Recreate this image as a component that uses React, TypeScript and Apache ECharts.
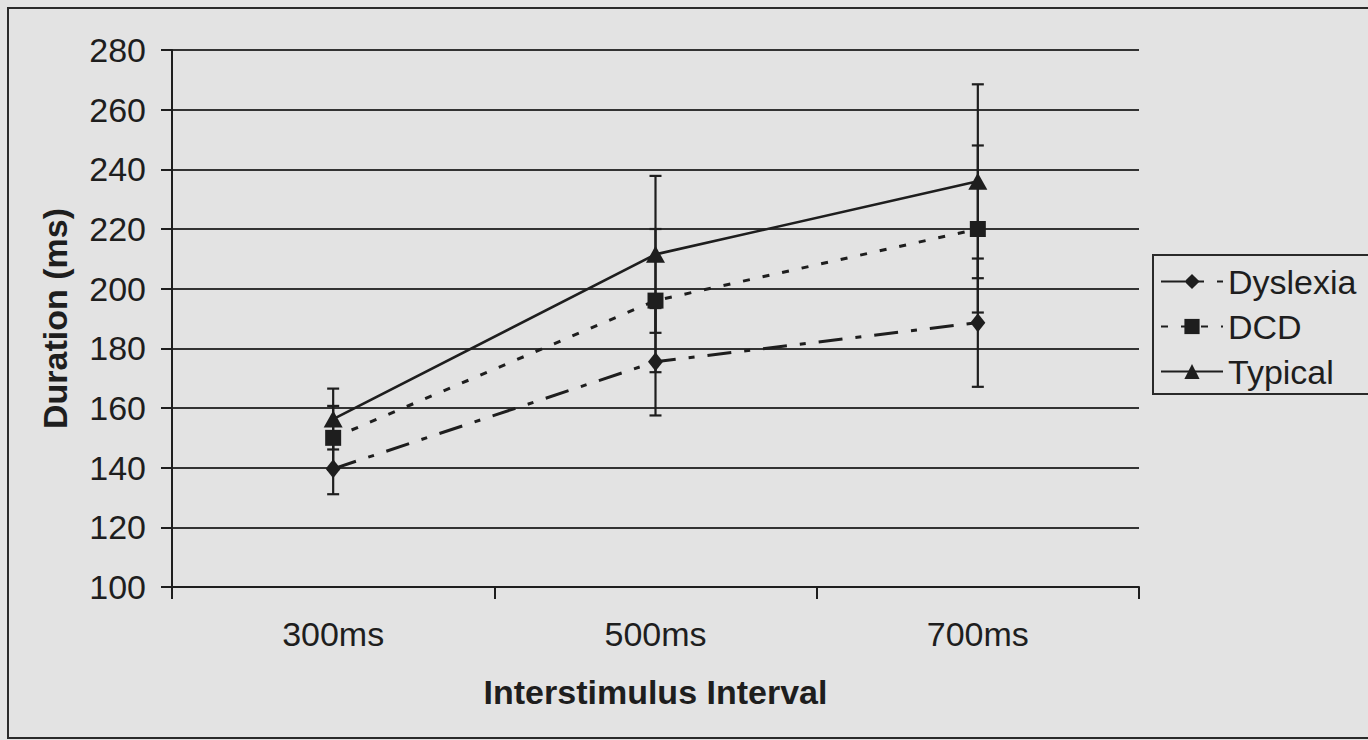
import React, { useEffect, useRef } from "react";
import * as echarts from "echarts";

const categories = ["300ms", "500ms", "700ms"];
const dyslexia = [139.6, 175.5, 188.6];
const dyslexiaErr = [8.5, 18, 21.5];
const dcd = [150, 196, 220];
const dcdErr = [10.7, 24, 28];
const typical = [156.3, 211.5, 236];
const typicalErr = [10.2, 26.3, 32.5];
const yTicks = { min: 100, max: 280, interval: 20 };

const FONT = "'Liberation Sans', Arial, sans-serif";
const INK = "#1e1e1e";

function errData(vals: number[], errs: number[]) {
  return vals.map((v, i) => [i, v - errs[i], v + errs[i]]);
}

function errSeries(name: string, vals: number[], errs: number[]) {
  return {
    type: "custom",
    name: name + " error",
    data: errData(vals, errs),
    z: 1,
    silent: true,
    renderItem: (params: any, api: any) => {
      const x = api.value(0);
      const lo = api.coord([x, api.value(1)]);
      const hi = api.coord([x, api.value(2)]);
      const cap = 6;
      const style = { stroke: INK, lineWidth: 2.2 };
      return {
        type: "group",
        children: [
          { type: "line", shape: { x1: lo[0], y1: lo[1], x2: hi[0], y2: hi[1] }, style },
          { type: "line", shape: { x1: lo[0] - cap, y1: lo[1], x2: lo[0] + cap, y2: lo[1] }, style },
          { type: "line", shape: { x1: hi[0] - cap, y1: hi[1], x2: hi[0] + cap, y2: hi[1] }, style },
        ],
      };
    },
  };
}

export default function App() {
  const ref = useRef<HTMLDivElement>(null);
  useEffect(() => {
    if (!ref.current) return;
    const chart = echarts.init(ref.current, null, { renderer: "svg" });
    const lineCommon = {
      type: "line",
      z: 3,
      symbolKeepAspect: true,
      itemStyle: { color: INK },
    };
    chart.setOption({
      animation: false,
      backgroundColor: "#e3e3e3",
      textStyle: { fontFamily: FONT, color: INK },
      graphic: [
        {
          type: "polyline",
          shape: { points: [[1380, 8], [8, 8], [8, 738], [1380, 738]] },
          style: { fill: "none", stroke: "#2a2a2a", lineWidth: 2 },
          silent: true,
        },
        {
          type: "polyline",
          shape: { points: [[1380, 255], [1153, 255], [1153, 394], [1380, 394]] },
          style: { fill: "none", stroke: "#2a2a2a", lineWidth: 2 },
          silent: true,
        },
      ],
      grid: { left: 172, top: 50, width: 967, bottom: 153 },
      legend: {
        orient: "vertical",
        left: 1153,
        top: 255,
        data: ["Dyslexia", "DCD", "Typical"],
        itemWidth: 62,
        itemHeight: 19,
        itemGap: 8,
        padding: [8, 2, 2, 7],
        borderWidth: 0,
        borderColor: "transparent",
        backgroundColor: "transparent",
        textStyle: { fontSize: 34, fontFamily: FONT, color: INK, lineHeight: 37 },
      },
      xAxis: {
        type: "category",
        data: categories,
        boundaryGap: true,
        axisLine: { show: true, lineStyle: { color: INK, width: 2 } },
        axisTick: { show: true, length: 12, inside: false, alignWithLabel: false, lineStyle: { color: INK, width: 2 } },
        axisLabel: { fontSize: 34, color: INK, fontFamily: FONT, margin: 30 },
        name: "Interstimulus Interval",
        nameLocation: "middle",
        nameGap: 88,
        nameTextStyle: { fontSize: 34, fontWeight: "bold", color: INK, fontFamily: FONT },
        splitLine: { show: false },
      },
      yAxis: {
        type: "value",
        min: yTicks.min,
        max: yTicks.max,
        interval: yTicks.interval,
        axisLine: { show: true, lineStyle: { color: INK, width: 2 } },
        axisTick: { show: true, length: 11, inside: false, lineStyle: { color: INK, width: 2 } },
        axisLabel: { fontSize: 34, color: INK, fontFamily: FONT, margin: 26 },
        splitLine: { show: true, lineStyle: { color: "#333", width: 1.8 } },
        name: "Duration (ms)",
        nameLocation: "middle",
        nameGap: 100,
        nameTextStyle: { fontSize: 34, fontWeight: "bold", color: INK, fontFamily: FONT },
      },
      series: [
        errSeries("Dyslexia", dyslexia, dyslexiaErr),
        errSeries("DCD", dcd, dcdErr),
        errSeries("Typical", typical, typicalErr),
        {
          ...lineCommon,
          name: "Dyslexia",
          data: dyslexia,
          symbol: "diamond",
          symbolSize: [15, 19],
          lineStyle: { color: INK, width: 3, type: [24, 13, 6, 13] },
        },
        {
          ...lineCommon,
          name: "DCD",
          data: dcd,
          symbol: "rect",
          symbolSize: 16,
          lineStyle: { color: INK, width: 3, type: [7, 13] },
        },
        {
          ...lineCommon,
          name: "Typical",
          data: typical,
          symbol: "triangle",
          symbolSize: [19, 17],
          lineStyle: { color: INK, width: 2.6, type: "solid" },
        },
      ],
    });
    return () => chart.dispose();
  }, []);
  return (
    <div
      ref={ref}
      style={{ position: "fixed", left: 0, top: 0, width: 1368, height: 740 }}
    />
  );
}
